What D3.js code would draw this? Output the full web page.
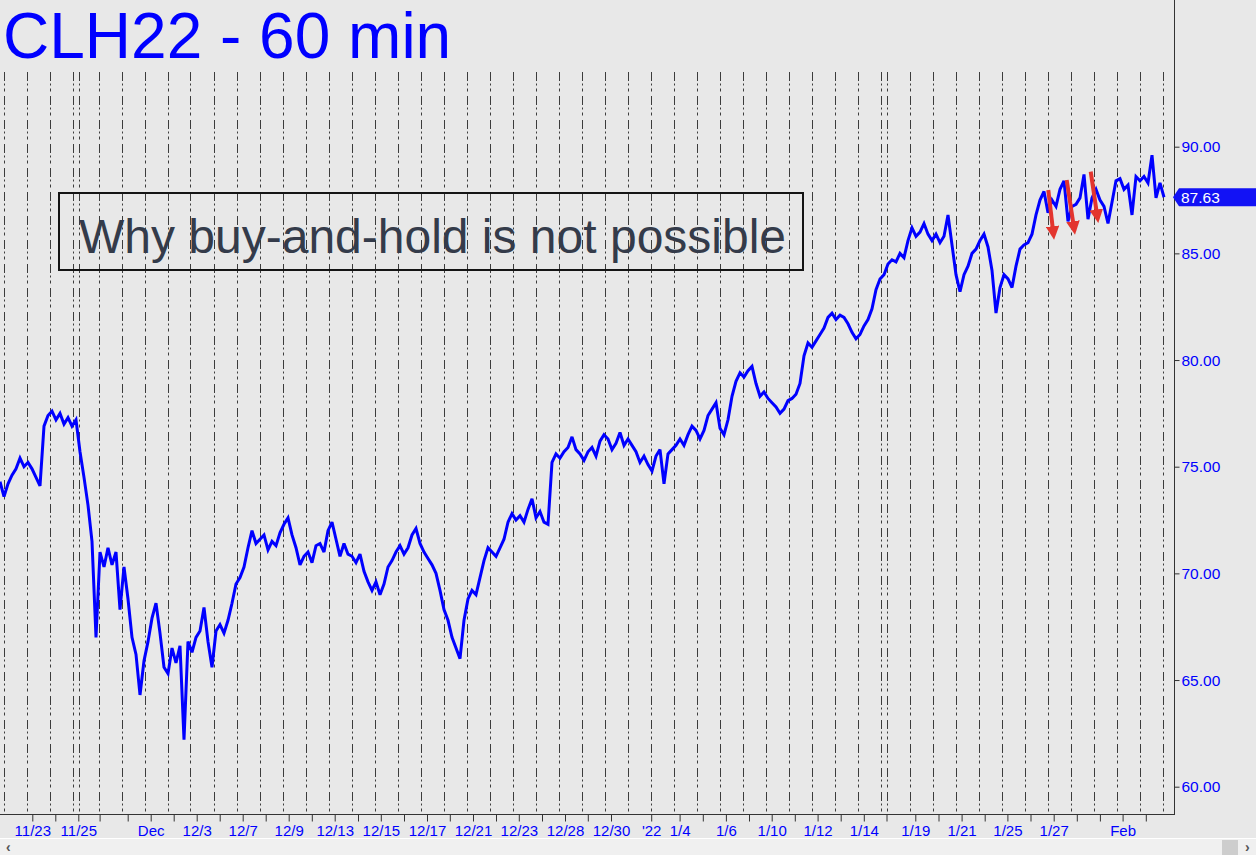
<!DOCTYPE html>
<html><head><meta charset="utf-8">
<script src="https://cdn.jsdelivr.net/npm/d3@7"></script>
<style>html,body{margin:0;padding:0;background:#e8e8e8;overflow:hidden}</style>
</head><body><svg id="c" width="1256" height="855"></svg>
<script>
const title = "CLH22 - 60 min";
const note = "Why buy-and-hold is not possible";
const barStep = 4; // one reading every 4 hourly bars
const prices = [
74.3,73.6,74.2,74.6,74.9,75.4,75.0,75.2,74.9,74.5,74.1,76.9,77.4,77.6,77.2,77.5,77.0,77.3,76.9,77.2,
75.7,74.5,73.2,71.5,67.0,71.0,70.3,71.2,70.4,71.0,68.3,70.3,68.8,67.0,66.2,64.3,65.9,66.8,67.9,68.6,
67.2,65.6,65.3,66.5,65.8,66.6,62.2,66.8,66.3,67.0,67.3,68.4,66.8,65.6,67.3,67.6,67.2,67.8,68.6,69.5,
69.8,70.3,71.2,72.0,71.4,71.6,71.8,71.1,71.5,71.3,71.9,72.3,72.6,71.8,71.2,70.4,70.8,71.0,70.5,71.3,
71.4,71.0,72.0,72.4,71.6,70.8,71.4,70.9,70.8,70.5,70.9,70.1,69.6,69.2,69.6,69.0,69.5,70.3,70.6,71.0,
71.3,70.9,71.2,71.8,72.1,71.4,71.0,70.7,70.4,70.0,69.2,68.3,67.8,67.0,66.5,66.0,67.8,68.8,69.2,69.0,
69.8,70.6,71.2,71.0,70.8,71.2,71.6,72.4,72.8,72.5,72.7,72.4,73.0,73.5,72.6,72.9,72.4,72.3,75.2,75.6,
75.4,75.7,75.9,76.4,75.8,75.6,75.3,75.7,75.9,75.5,76.2,76.5,76.3,75.8,76.1,76.6,76.0,76.3,76.0,75.7,
75.2,75.5,75.1,74.8,75.5,75.8,74.2,75.6,75.8,76.0,76.3,76.0,76.5,76.9,76.7,76.3,76.7,77.4,77.7,78.0,
76.8,76.5,77.2,78.3,79.0,79.4,79.2,79.5,79.7,78.9,78.3,78.5,78.2,78.0,77.8,77.5,77.7,78.1,78.2,78.4,
78.9,80.2,80.8,80.6,80.9,81.2,81.5,82.0,82.2,81.9,82.1,82.0,81.7,81.3,81.0,81.2,81.6,81.9,82.4,83.3,
83.8,84.0,84.5,84.7,84.6,85.0,84.8,85.6,86.2,85.8,86.0,86.4,85.9,85.6,85.9,85.5,85.8,86.8,85.4,84.0,
83.2,84.0,84.4,85.0,85.2,85.6,85.9,85.3,84.2,82.2,83.4,84.0,83.8,83.4,84.4,85.2,85.4,85.5,85.9,86.8,
87.5,87.9,86.9,87.5,87.2,88.0,88.4,86.5,87.2,87.3,87.6,88.7,86.6,87.6,88.0,87.5,87.2,86.4,87.4,88.4,
88.5,88.0,88.2,86.8,88.6,88.4,88.6,88.3,89.6,87.6,88.3,87.63
];
const lastPrice = 87.63;
const sessionStarts = [4,27,50,73,79,99,122,145,168,191,214,237,260,283,306,329,352,375,398,421,444,467,490,513,536,559,
582.6,605.6,628.6,651.6,674.6,697.6,720.6,743.6,766.6,789.6,812.6,835.6,858.6,881.2,887.2,910.2,933.2,956.2,979.2,1002.2,
1025.2,1048.2,1071.2,1094.2,1117.2,1140.2,1163.2];
const dayTickBars = [32.3,55.3,78.3,99.6,127.7,150.7,173.7,196.7,219.7,242.7,265.7,288.7,311.8,334.7,358,380.8,404,427,449.8,473,
496,518.8,542,565,587.8,611,651.2,679.6,702.8,725.9,749,771.7,794.8,817.6,840.7,863.8,886.5,915.3,938.5,961.6,984.7,1007.4,
1030.5,1053.7,1076.8,1099.9,1122.6,1145.8];
const dayTickLabels = ["11/23","","11/25","","","Dec","","12/3","","12/7","","12/9","","12/13","","12/15","","12/17","","12/21",
"","12/23","","12/28","","12/30","'22","1/4","","1/6","","1/10","","1/12","","1/14","","1/19","","1/21","","1/25",
"","1/27","","","Feb",""];
const priceTicks = [60,65,70,75,80,85,90];
const arrowStarts = [[1048.3,87.97],[1066.7,88.44],[1090.7,88.83]];
const arrowEnds = [[1053.3,85.63],[1074,85.86],[1097.3,86.41]];

const W = 1256, H = 855;
const plotRight = 1174, plotBottom = 814;
const FONT = "'Liberation Sans', Arial, Helvetica, sans-serif";
const BLUE = "#0000ff";

const svg = d3.select("#c");
svg.append("rect").attr("width", W).attr("height", H).attr("fill", "#e8e8e8");

const x = d3.scaleLinear().domain([0, plotRight]).range([0, plotRight]);
const y = d3.scaleLinear().domain([60, 90]).range([786.7, 146.7]);

// session separators
svg.append("g").selectAll("line").data(sessionStarts).join("line")
  .attr("x1", d => Math.floor(x(d)) + 0.5).attr("x2", d => Math.floor(x(d)) + 0.5)
  .attr("y1", 72).attr("y2", plotBottom)
  .attr("stroke", "#3c3c3c").attr("stroke-width", 1)
  .attr("stroke-dasharray", "9,2.5,2,3,3,4.5");

// title
svg.append("text").attr("x", 3).attr("y", 58).text(title)
  .attr("font-family", FONT).attr("font-size", 64).attr("fill", BLUE);

// annotation box
svg.append("rect").attr("x", 59).attr("y", 193).attr("width", 744).attr("height", 77)
  .attr("fill", "none").attr("stroke", "#141414").attr("stroke-width", 2);
svg.append("text").attr("x", 79).attr("y", 253).text(note)
  .attr("font-family", FONT).attr("font-size", 48).attr("fill", "#343b4a");

// price line
const line = d3.line().x((d, i) => x(i * barStep)).y(d => y(d));
svg.append("path").datum(prices).attr("d", line)
  .attr("fill", "none").attr("stroke", BLUE).attr("stroke-width", 3)
  .attr("stroke-linejoin", "miter").attr("stroke-miterlimit", 3);

// red arrows
const defs = svg.append("defs");
defs.append("marker").attr("id", "ah").attr("viewBox", "0 0 10 10")
  .attr("refX", 5).attr("refY", 5).attr("markerWidth", 3.4).attr("markerHeight", 3.4)
  .attr("orient", "auto").attr("markerUnits", "strokeWidth")
  .append("path").attr("d", "M0,0 L10,5 L0,10 Z").attr("fill", "#e3352e");
svg.append("g").selectAll("line").data(arrowStarts).join("line")
  .attr("x1", d => x(d[0])).attr("y1", d => y(d[1]))
  .attr("x2", (d, i) => x(arrowEnds[i][0])).attr("y2", (d, i) => y(arrowEnds[i][1]) - 7)
  .attr("stroke", "#e3352e").attr("stroke-width", 4)
  .attr("marker-end", "url(#ah)");

// right axis
svg.append("line").attr("x1", plotRight + 0.5).attr("x2", plotRight + 0.5)
  .attr("y1", 0).attr("y2", plotBottom + 1).attr("stroke", "#333").attr("stroke-width", 1);
const ra = svg.append("g").attr("transform", `translate(${plotRight + 0.5},0)`)
  .call(d3.axisRight(y).tickValues(priceTicks).tickFormat(d3.format(".2f")).tickSize(5).tickPadding(2));
ra.select(".domain").remove();
ra.selectAll("line").attr("stroke", "#333");
ra.selectAll("text").attr("font-family", FONT).attr("font-size", 15.5).attr("fill", BLUE);

// bottom axis
svg.append("line").attr("x1", 0).attr("x2", plotRight + 1)
  .attr("y1", plotBottom + 0.5).attr("y2", plotBottom + 0.5).attr("stroke", "#333");
const ba = svg.append("g").attr("transform", `translate(0,${plotBottom + 0.5})`)
  .call(d3.axisBottom(x).tickValues(dayTickBars)
    .tickFormat((d, i) => dayTickLabels[i]).tickSize(7).tickPadding(4));
ba.select(".domain").remove();
ba.selectAll("line").attr("stroke", "#333");
ba.selectAll("text").attr("font-family", FONT).attr("font-size", 15).attr("fill", BLUE);

// last price tag
const ly = y(lastPrice);
svg.append("path")
  .attr("d", `M${plotRight - 1},${ly} L${plotRight + 5},${ly - 9} L${W},${ly - 9} L${W},${ly + 9} L${plotRight + 5},${ly + 9} Z`)
  .attr("fill", "#1212f5");
svg.append("text").attr("x", plotRight + 7).attr("y", ly).attr("dy", "0.36em")
  .text(d3.format(".2f")(lastPrice))
  .attr("font-family", FONT).attr("font-size", 15.5).attr("fill", "#ffffff");

// scrollbar strip
svg.append("rect").attr("x", 0).attr("y", 839).attr("width", W).attr("height", 16).attr("fill", "#f0f0f0");
svg.append("line").attr("x1", 0).attr("x2", W).attr("y1", 838.5).attr("y2", 838.5).attr("stroke", "#ffffff");
svg.append("rect").attr("x", 1222).attr("y", 840).attr("width", 16).attr("height", 15).attr("fill", "#cdcdcd");
svg.append("text").attr("x", 6).attr("y", 852).text("‹").attr("font-family", FONT)
  .attr("font-size", 14).attr("font-weight", "bold").attr("fill", "#555");
svg.append("text").attr("x", 1245).attr("y", 852).text("›").attr("font-family", FONT)
  .attr("font-size", 14).attr("font-weight", "bold").attr("fill", "#555");
</script></body></html>
